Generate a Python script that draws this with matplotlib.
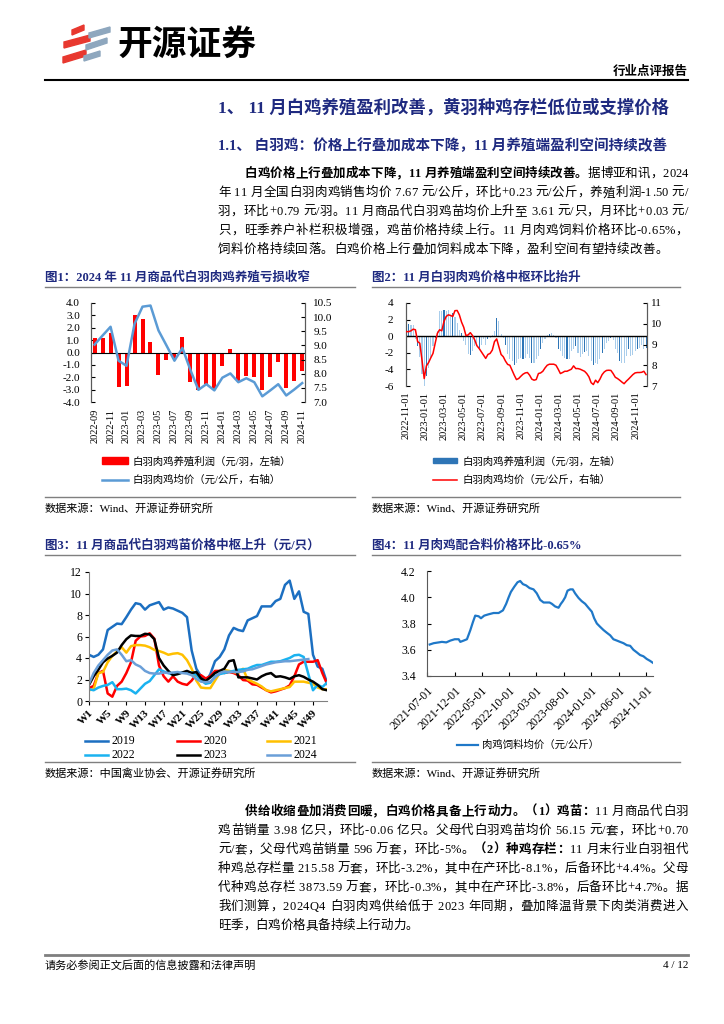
import numpy as np
import pandas as pd
import matplotlib
matplotlib.use('Agg')
import matplotlib.pyplot as plt
from matplotlib.lines import Line2D
from matplotlib.patches import Polygon, Rectangle
from matplotlib.ticker import FormatStrFormatter

FAM = ['Liberation Serif', 'Noto Sans CJK SC']
plt.rcParams['font.family'] = FAM
plt.rcParams['axes.unicode_minus'] = False
NAVY = '#1F2A80'
GRAY = '#7F7F7F'
W, H = 724, 1024

# ---------------- data ----------------
# fig1: monthly profit (yuan/bird) and price (yuan/kg)
months1 = ['2022-09', '2022-10', '2022-11', '2022-12', '2023-01', '2023-02', '2023-03',
           '2023-04', '2023-05', '2023-06', '2023-07', '2023-08', '2023-09', '2023-10',
           '2023-11', '2023-12', '2024-01', '2024-02', '2024-03', '2024-04', '2024-05',
           '2024-06', '2024-07', '2024-08', '2024-09', '2024-10', '2024-11']
profit1 = [1.2, 1.15, 1.6, -2.75, -2.7, 3.05, 2.7, 0.85, -1.8, -0.6, -0.5, 1.25, -2.35, -3.0,
           -2.55, -3.0, -1.1, 0.3, -2.3, -1.9, -2.0, -3.0, -2.0, -0.8, -2.9, -2.29, -1.5]
price1 = [9.03, 9.35, 9.66, 8.46, 8.28, 9.76, 10.37, 10.41, 9.53, 9.0, 8.46, 8.91, 8.13, 7.43,
          7.63, 7.41, 7.86, 8.01, 7.7, 7.84, 7.7, 7.2, 7.41, 7.63, 7.23, 7.44, 7.67]

# fig2: weekly profit and price, from 2022-11-02
profit2 = [1.8, 1.5, 1.4, 1.3, -0.3, -1.2, -2.5, -4.5, -6.0, -4.8, -3.8, -2.5, -1.2, -0.2,
           0.6, 3.0, 3.0, 3.2, 3.0, 3.1, 2.5, 2.8, 2.3, 1.6, 0.8, 0.4, -0.6, -1.0, -2.2, -2.3,
           -1.8, -1.2, -0.8, -1.4, -1.0, -0.3, -1.0, -0.3, -0.2, 0.2, 0.6, 2.2, 1.8, 0.3, -0.2,
           -1.0, -2.2, -2.8, -3.0, -3.5, -3.2, -2.8, -2.6, -2.8, -2.6, -2.2, -2.6, -3.2, -3.2,
           -2.8, -2.4, -1.5, -0.8, -0.3, 0.1, 0.3, 0.4, 0.1, -0.2, -1.6, -1.8, -2.4, -2.6, -2.8,
           -2.8, -1.8, -1.5, -1.2, -2.0, -2.5, -2.2, -1.9, -1.8, -2.4, -3.0, -3.5, -3.2, -3.3,
           -2.8, -2.0, -1.6, -0.8, -0.6, -0.2, -0.5, -1.6, -2.0, -3.0, -3.2, -3.2, -2.4, -1.6,
           -2.4, -2.3, -1.8, -1.6, -1.4, -1.0, -1.6, -1.4]
price2 = [9.62, 9.62, 9.66, 9.74, 9.71, 9.14, 9.06, 8.25, 7.36, 7.97, 8.13, 8.36, 8.57, 9.06,
          9.54, 9.71, 9.66, 10.11, 10.35, 10.43, 10.40, 10.35, 10.63, 10.64, 10.43, 10.08, 9.83,
          9.43, 9.46, 9.57, 9.43, 9.22, 8.94, 8.81, 8.65, 8.49, 8.33, 8.52, 8.57, 8.73, 9.14,
          9.27, 8.89, 8.52, 8.41, 8.20, 8.04, 8.0, 7.76, 7.52, 7.31, 7.36, 7.47, 7.57, 7.63, 7.65,
          7.52, 7.33, 7.28, 7.31, 7.60, 7.63, 7.71, 7.87, 8.0, 8.05, 8.05, 8.05, 8.0, 7.81, 7.60,
          7.65, 7.71, 7.71, 7.76, 7.81, 7.97, 7.84, 7.84, 7.81, 7.76, 7.71, 7.60, 7.44, 7.16,
          7.07, 7.28, 7.16, 7.33, 7.55, 7.68, 7.75, 7.76, 7.75, 7.60, 7.42, 7.36, 7.28, 7.19,
          7.11, 7.23, 7.33, 7.44, 7.55, 7.63, 7.65, 7.65, 7.66, 7.71, 7.55]

# fig3: weekly chick price by year (yuan/bird)
weeks3 = list(range(1, 53))
chick = {
    '2019': [4.3, 4.1, 4.3, 4.8, 6.6, 6.9, 7.2, 7.15, 7.8, 8.5, 9.1, 9.0, 8.5, 8.9, 9.05, 9.2,
             8.5, 8.7, 8.6, 8.4, 8.2, 7.8, 4.7, 3.0, 2.3, 1.8, 2.5, 3.7, 4.1, 4.8, 6.1, 6.8, 6.6,
             6.5, 7.5, 7.7, 7.9, 8.8, 8.8, 8.8, 9.3, 9.5, 10.8, 11.2, 9.5, 10.2, 8.3, 8.1, 4.3,
             3.2, 3.0, 1.7],
    '2020': [1.2, 1.4, 2.6, 2.8, 0.7, 0.4, 1.4, 1.8, 2.6, 3.6, 5.6, 6.0, 6.05, 6.3, 5.8, 3.3,
             2.3, 1.8, 2.3, 1.8, 1.6, 1.5, 1.9, 2.5, 2.4, 2.1, 2.3, 2.8, 2.8, 2.6, 2.7, 2.6, 2.4,
             1.95, 1.9, 1.55, 1.5, 1.25, 1.0, 0.8, 0.9, 1.05, 1.2, 1.45, 2.3, 3.4, 3.65, 3.65,
             3.65, 3.8, 2.6, 1.6],
    '2021': [1.0, 1.1, 2.6, 2.7, 3.6, 4.2, 4.6, 5.0, 4.5, 5.1, 5.2, 5.2, 5.15, 5.0, 4.75, 4.65,
             4.5, 4.3, 4.4, 4.45, 4.3, 3.8, 3.0, 1.9, 1.25, 1.2, 1.2, 1.9, 2.6, 2.9, 2.8, 2.7,
             2.6, 3.0, 2.0, 1.8, 1.6, 1.35, 1.0, 0.9, 1.0, 1.1, 1.2, 1.3, 1.8, 1.8, 1.8, 1.7,
             1.6, 1.25, 1.1, 1.1],
    '2022': [1.1, 1.0, 1.25, 1.4, 1.5, 1.75, 1.1, 1.1, 1.15, 1.0, 0.7, 1.15, 1.6, 1.85, 2.4,
             2.95, 2.75, 2.6, 2.45, 2.55, 2.65, 2.7, 2.65, 2.4, 1.95, 1.6, 1.7, 2.3, 2.5, 2.6,
             2.7, 2.8, 2.9, 2.95, 3.0, 3.2, 3.35, 3.35, 3.5, 3.65, 3.65, 3.7, 3.85, 4.0, 4.25,
             4.3, 4.1, 2.5, 1.0, 1.5, 1.3, 1.7],
    '2023': [1.5, 2.3, 2.9, 3.6, 3.95, 4.2, 4.5, 5.2, 5.75, 6.1, 6.05, 6.05, 6.25, 6.2, 5.75,
             4.0, 3.3, 2.8, 2.4, 2.5, 2.65, 2.8, 2.6, 2.7, 2.1, 1.85, 2.2, 2.6, 2.8, 3.0, 3.7,
             3.8, 2.2, 2.2, 2.2, 2.1, 2.0, 2.3, 2.5, 2.6, 2.25, 2.3, 2.2, 2.05, 2.3, 2.4, 2.25,
             2.0, 1.8, 1.5, 1.1, 1.0],
    '2024': [1.6, 2.6, 3.3, 3.8, 4.3, 4.7, 4.8, 4.3, 3.7, 3.8, 3.4, 3.2, 2.8, 2.6, 2.55, 2.55,
             2.65, 2.6, 2.65, 2.7, 2.6, 2.55, 2.4, 2.05, 1.8, 1.75, 1.8, 2.2, 2.6, 2.75, 2.7,
             2.7, 2.7, 2.75, 2.9, 2.95, 3.1, 3.25, 3.4, 3.5, 3.6, 3.65, 3.7, 3.7, 3.75, 3.8,
             3.85, 3.9, np.nan, np.nan, np.nan, np.nan],
}
chick_colors = {'2019': '#1C6FC1', '2020': '#FF0000', '2021': '#FFC000',
                '2022': '#1AB2F0', '2023': '#000000', '2024': '#6A9FD8'}

# fig4: broiler feed price (yuan/kg)
feed_dates = ['2021-07-16', '2021-08-07', '2021-09-04', '2021-09-22', '2021-10-16', '2021-11-08',
              '2021-12-02', '2021-12-24', '2022-01-02', '2022-01-21', '2022-02-08', '2022-02-27',
              '2022-03-13', '2022-03-26', '2022-04-14', '2022-04-27', '2022-05-15', '2022-06-08',
              '2022-07-06', '2022-08-03', '2022-08-27', '2022-09-14', '2022-09-27', '2022-10-10',
              '2022-10-29', '2022-11-16', '2022-12-01', '2022-12-16', '2023-01-03', '2023-01-22',
              '2023-02-13', '2023-03-03', '2023-03-22', '2023-04-10', '2023-04-28', '2023-05-13',
              '2023-05-26', '2023-06-13', '2023-07-02', '2023-07-15', '2023-07-26', '2023-08-08',
              '2023-08-21', '2023-09-05', '2023-09-19', '2023-10-02', '2023-10-21', '2023-11-08',
              '2023-11-27', '2023-12-15', '2024-01-03', '2024-01-16', '2024-01-31', '2024-02-18',
              '2024-03-08', '2024-03-26', '2024-04-14', '2024-05-02', '2024-05-21', '2024-06-08',
              '2024-06-27', '2024-07-15', '2024-08-03', '2024-08-21', '2024-09-09', '2024-09-27',
              '2024-10-16', '2024-11-03', '2024-11-22', '2024-12-08']
feed_price = [3.64, 3.65, 3.656, 3.66, 3.656, 3.67, 3.68, 3.68, 3.66, 3.67, 3.68, 3.75, 3.81,
              3.86, 3.855, 3.84, 3.86, 3.87, 3.88, 3.88, 3.90, 3.95, 3.997, 4.04, 4.08, 4.114,
              4.124, 4.10, 4.09, 4.07, 4.06, 4.03, 3.98, 3.96, 3.96, 3.96, 3.95, 3.93, 3.92, 3.95,
              3.97, 4.0, 4.05, 4.06, 4.06, 4.03, 3.995, 3.97, 3.95, 3.92, 3.89, 3.84, 3.80, 3.775,
              3.75, 3.73, 3.71, 3.68, 3.67, 3.66, 3.65, 3.635, 3.63, 3.60, 3.58, 3.56, 3.55, 3.53,
              3.515, 3.50]

# ---------------- page helpers ----------------
fig = plt.figure(figsize=(7.24, 10.24), dpi=100)
R = fig.canvas.get_renderer()


def axes_px(l, t, r, b):
    return fig.add_axes([l / W, 1 - b / H, (r - l) / W, (b - t) / H])


def txt(x, y, s, **kw):
    kw.setdefault('va', 'center')
    return fig.text(x / W, 1 - y / H, s, **kw)


def hline(x0, x1, y, color=GRAY, lw=1.0):
    fig.add_artist(Line2D([x0 / W, x1 / W], [1 - y / H] * 2, color=color, lw=lw))


def para_line(segs, x0, y, x1=None, size=9):
    toks, arts, widths = [], [], []
    for s, bold in segs:
        for ch in s:
            toks.append((ch, bold))
    sp = 0.27 * size * 100 / 72
    for ch, bold in toks:
        if ch == ' ':
            arts.append(None)
            widths.append(sp)
            continue
        t = txt(0, y, ch, fontsize=size, fontweight='bold' if bold else 'normal', ha='left')
        arts.append(t)
        widths.append(t.get_window_extent(renderer=R).width)
    gap = 0
    if x1 is not None and len(toks) > 1:
        gap = (x1 - x0 - sum(widths)) / (len(toks) - 1)
    x = x0
    for t, w in zip(arts, widths):
        if t is not None:
            t.set_position((x / W, 1 - y / H))
        x += w + gap


def band(x0, x1, yl, yr, th, color):
    pts = [(x0, yl), (x1, yr), (x1, yr + th), (x0, yl + th)]
    fig.add_artist(Polygon([(px / W, 1 - py / H) for px, py in pts], closed=True,
                           color=color, transform=fig.transFigure))


# ---------------- header ----------------
band(72, 84, 30, 25, 5, '#E8382F')
band(64, 90, 42, 35, 6, '#E8382F')
band(63, 86, 57, 50, 6, '#E8382F')
band(89, 110, 33, 27, 5, '#8EA7BE')
band(86, 107, 45, 38, 5, '#8EA7BE')
band(84, 100, 56, 51, 5, '#8EA7BE')
txt(117, 44, '开源证券', fontsize=25, fontweight='bold', family='Noto Sans CJK SC', ha='left')
txt(688, 72, '行业点评报告', fontsize=9, fontweight='bold', ha='right')
hline(45, 688, 80, 'black', 1.5)

txt(218, 108, '1、 11 月白鸡养殖盈利改善，黄羽种鸡存栏低位或支撑价格',
    fontsize=12.5, fontweight='bold', color=NAVY, ha='left')
txt(218, 146, '1.1、 白羽鸡：价格上行叠加成本下降，11 月养殖端盈利空间持续改善',
    fontsize=10.5, fontweight='bold', color=NAVY, ha='left')

X0, X1 = 218, 688
para_line([('白鸡价格上行叠加成本下降，11 月养殖端盈利空间持续改善。', True),
           ('据博亚和讯，2024', False)], 245, 174, X1)
para_line([('年 11 月全国白羽肉鸡销售均价 7.67 元/公斤，环比+0.23 元/公斤，养殖利润-1.50 元/', False)], X0, 193, X1)
para_line([('羽，环比+0.79 元/羽。11 月商品代白羽鸡苗均价上升至 3.61 元/只，月环比+0.03 元/', False)], X0, 212, X1)
para_line([('只，旺季养户补栏积极增强，鸡苗价格持续上行。11 月肉鸡饲料价格环比-0.65%，', False)], X0, 231, X1)
para_line([('饲料价格持续回落。白鸡价格上行叠加饲料成本下降，盈利空间有望持续改善。', False)], X0, 250, 668)

# ---------------- figure 1 ----------------
txt(45, 278, '图1：2024 年 11 月商品代白羽肉鸡养殖亏损收窄', fontsize=9, fontweight='bold',
    color=NAVY, ha='left')
hline(45, 355, 287)
ax1 = axes_px(91, 303, 305, 402)
x1 = np.arange(len(months1))
bars1 = ax1.bar(x1, profit1, width=0.5, color='#FF0000', zorder=2)
ax1.axhline(0, color='black', lw=0.8, zorder=3)
ax1.set_ylim(-4, 4)
ax1.set_yticks(np.arange(-4, 4.01, 1))
ax1.yaxis.set_major_formatter(FormatStrFormatter('%.1f'))
ax1.set_xlim(-0.45, len(months1) - 0.65)
ax1.set_xticks(x1[::2])
ax1.set_xticklabels(months1[::2], rotation=90)
ax1.tick_params(axis='x', length=0, pad=5, labelsize=7.5)
ax1.tick_params(axis='y', direction='in', length=3, pad=8, labelsize=8)
ax1b = ax1.twinx()
line1, = ax1b.plot(x1, price1, color='#5B9BD5', lw=1.8, zorder=4)
ax1b.set_ylim(7, 10.5)
ax1b.set_yticks(np.arange(7, 10.51, 0.5))
ax1b.yaxis.set_major_formatter(FormatStrFormatter('%.1f'))
ax1b.tick_params(axis='y', direction='in', length=3, pad=6, labelsize=8)
for a in (ax1, ax1b):
    a.patch.set_visible(False)
    for s in ('top', 'bottom'):
        a.spines[s].set_visible(False)
    for s in ('left', 'right'):
        a.spines[s].set_color('#595959')
        a.spines[s].set_linewidth(0.8)

fig.add_artist(Rectangle((102 / W, 1 - 464 / H), 26 / W, 7 / H, color='#FF0000',
                         transform=fig.transFigure))
txt(133, 461, '白羽肉鸡养殖利润（元/羽，左轴）', fontsize=7.5, ha='left')
hline(102, 128, 480, '#5B9BD5', 1.8)
txt(133, 480, '白羽肉鸡均价（元/公斤，右轴）', fontsize=7.5, ha='left')
hline(45, 355, 497)
txt(45, 508, '数据来源：Wind、开源证券研究所', fontsize=8, ha='left')

# ---------------- figure 2 ----------------
txt(372, 278, '图2：11 月白羽肉鸡价格中枢环比抬升', fontsize=9, fontweight='bold',
    color=NAVY, ha='left')
hline(372, 680, 287)
ax2 = axes_px(406, 303, 647, 386)
weeks2 = pd.date_range('2022-11-02', periods=len(profit2), freq='7D')
bar_cols = ['#2E75B6' if i % 4 == 1 else '#A9CDEB' for i in range(len(profit2))]
ax2.bar(weeks2, profit2, width=3.5, color=bar_cols, zorder=2)
ax2.axhline(0, color='black', lw=1.0, zorder=3)
ax2.set_ylim(-6, 4)
ax2.set_yticks(np.arange(-6, 4.1, 2))
ax2.set_xlim(pd.Timestamp('2022-10-31'), pd.Timestamp('2024-12-07'))
ticks2 = pd.date_range('2022-11-01', '2024-11-01', freq='2MS')
ax2.set_xticks(ticks2)
ax2.set_xticklabels([d.strftime('%Y-%m-%d') for d in ticks2], rotation=90)
ax2.tick_params(axis='x', length=0, pad=4, labelsize=7.5)
ax2.tick_params(axis='y', direction='in', length=3, pad=9, labelsize=8)
ax2b = ax2.twinx()
ax2b.plot(weeks2, price2, color='#FF0000', lw=1.1, zorder=4)
ax2b.set_ylim(7, 11)
ax2b.set_yticks(np.arange(7, 11.1, 1))
ax2b.tick_params(axis='y', direction='in', length=3, pad=3, labelsize=8)
for a in (ax2, ax2b):
    a.patch.set_visible(False)
    for s in ('top', 'bottom'):
        a.spines[s].set_visible(False)
    for s in ('left', 'right'):
        a.spines[s].set_color('#595959')
        a.spines[s].set_linewidth(0.8)

fig.add_artist(Rectangle((433 / W, 1 - 463 / H), 24 / W, 5 / H, color='#2E75B6',
                         transform=fig.transFigure))
txt(462, 461, '白羽肉鸡养殖利润（元/羽，左轴）', fontsize=7.5, ha='left')
hline(433, 457, 480, '#FF0000', 1.1)
txt(462, 480, '白羽肉鸡均价（元/公斤，右轴）', fontsize=7.5, ha='left')
hline(372, 680, 497)
txt(372, 508, '数据来源：Wind、开源证券研究所', fontsize=8, ha='left')

# ---------------- figure 3 ----------------
txt(45, 546, '图3：11 月商品代白羽鸡苗价格中枢上升（元/只）', fontsize=9, fontweight='bold',
    color=NAVY, ha='left')
hline(45, 355, 555)
ax3 = axes_px(89, 572, 327, 701)
for yr, vals in chick.items():
    ax3.plot(weeks3, vals, color=chick_colors[yr], lw=1.8, label=yr)
ax3.set_xlim(1, 52)
ax3.set_ylim(0, 12)
ax3.set_yticks(np.arange(0, 12.1, 2))
ax3.set_xticks(weeks3[::4])
ax3.set_xticklabels(['W%d' % w for w in weeks3[::4]], rotation=45, ha='right',
                    rotation_mode='anchor', fontweight='bold')
ax3.tick_params(axis='x', direction='out', length=3, pad=2, labelsize=8)
ax3.tick_params(axis='y', direction='out', length=3, pad=2, labelsize=8.5)
for s in ('top', 'right'):
    ax3.spines[s].set_visible(False)
for s in ('left', 'bottom'):
    ax3.spines[s].set_color('#808080')
    ax3.spines[s].set_linewidth(0.8)

leg_x = [85, 177, 267]
leg_y = [741, 755]
for i, yr in enumerate(chick):
    lx, ly = leg_x[i % 3], leg_y[i // 3]
    hline(lx, lx + 23, ly, chick_colors[yr], 1.8)
    txt(lx + 27, ly, yr, fontsize=8.5, ha='left')
hline(45, 355, 762)
txt(45, 773, '数据来源：中国禽业协会、开源证券研究所', fontsize=8, ha='left')

# ---------------- figure 4 ----------------
txt(372, 546, '图4：11 月肉鸡配合料价格环比-0.65%', fontsize=9, fontweight='bold',
    color=NAVY, ha='left')
hline(372, 680, 555)
ax4 = axes_px(427, 571, 653, 676)
ax4.plot(pd.to_datetime(feed_dates), feed_price, color='#1F78C8', lw=1.6)
ax4.set_ylim(3.4, 4.2)
ax4.set_yticks(np.arange(3.4, 4.21, 0.2))
ax4.yaxis.set_major_formatter(FormatStrFormatter('%.1f'))
ax4.set_xlim(pd.Timestamp('2021-07-01'), pd.Timestamp('2024-12-08'))
ticks4 = pd.date_range('2021-07-01', periods=9, freq='5MS')
ax4.set_xticks(ticks4)
ax4.set_xticklabels([d.strftime('%Y-%m-%d') for d in ticks4], rotation=45, ha='right',
                    rotation_mode='anchor')
ax4.tick_params(axis='x', direction='in', length=3, pad=6, labelsize=8.5)
ax4.tick_params(axis='y', direction='in', length=3, pad=8, labelsize=8.5)
for s in ('top', 'right'):
    ax4.spines[s].set_visible(False)
for s in ('left', 'bottom'):
    ax4.spines[s].set_color('#595959')
    ax4.spines[s].set_linewidth(0.8)

hline(457, 478, 745, '#1F78C8', 1.6)
txt(482, 745, '肉鸡饲料均价（元/公斤）', fontsize=7.5, ha='left')
hline(372, 680, 762)
txt(372, 773, '数据来源：Wind、开源证券研究所', fontsize=8, ha='left')

# ---------------- bottom paragraph ----------------
para_line([('供给收缩叠加消费回暖，白鸡价格具备上行动力。（1）鸡苗：', True),
           ('11 月商品代白羽', False)], 245, 812, X1)
para_line([('鸡苗销量 3.98 亿只，环比-0.06 亿只。父母代白羽鸡苗均价 56.15 元/套，环比+0.70', False)], X0, 831, X1)
para_line([('元/套，父母代鸡苗销量 596 万套，环比-5%。', False), ('（2）种鸡存栏：', True),
           ('11 月末行业白羽祖代', False)], X0, 850, X1)
para_line([('种鸡总存栏量 215.58 万套，环比-3.2%，其中在产环比-8.1%，后备环比+4.4%。父母', False)], X0, 869, X1)
para_line([('代种鸡总存栏 3873.59 万套，环比-0.3%，其中在产环比-3.8%，后备环比+4.7%。据', False)], X0, 888, X1)
para_line([('我们测算，2024Q4 白羽肉鸡供给低于 2023 年同期，叠加降温背景下肉类消费进入', False)], X0, 907, X1)
para_line([('旺季，白鸡价格具备持续上行动力。', False)], X0, 926)

# ---------------- footer ----------------
hline(45, 688, 955, GRAY, 2.0)
txt(45, 965, '请务必参阅正文后面的信息披露和法律声明', fontsize=8, ha='left')
txt(688, 965, '4 / 12', fontsize=8, ha='right')

fig.savefig('out.png', dpi=100)
